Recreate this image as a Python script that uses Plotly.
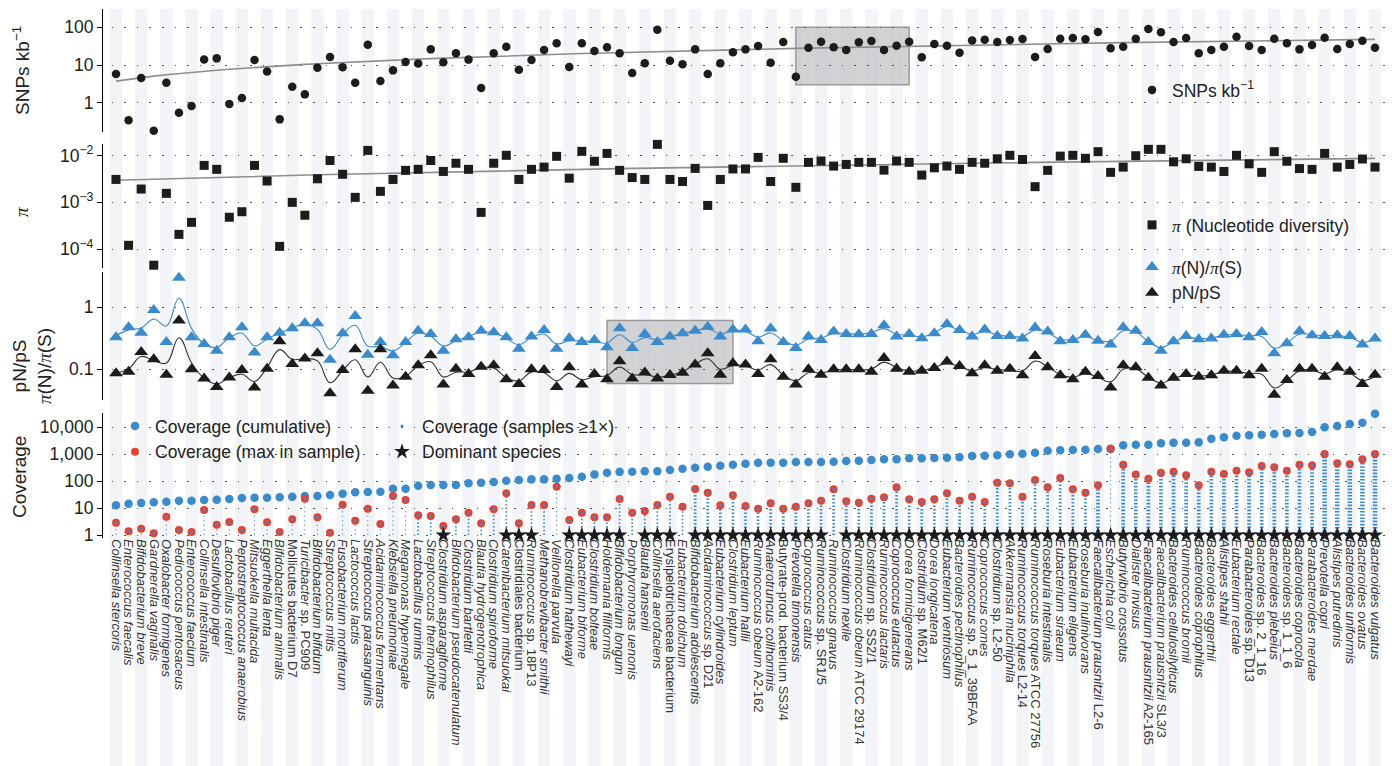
import numpy as np
import plotly.graph_objects as go

# ---------------------------------------------------------------- data
species = [
    "<i>Collinsella stercoris</i>", "<i>Enterococcus faecalis</i>", "<i>Bifidobacterium breve</i>",
    "<i>Gardnerella vaginalis</i>", "<i>Oxalobacter formigenes</i>", "<i>Pediococcus pentosaceus</i>",
    "<i>Enterococcus faecium</i>", "<i>Collinsella intestinalis</i>", "<i>Desulfovibrio piger</i>",
    "<i>Lactobacillus reuteri</i>", "<i>Peptostreptococcus anaerobius</i>", "<i>Mitsuokella multacida</i>",
    "<i>Eggerthella lenta</i>", "<i>Bifidobacterium animalis</i>", "Mollicutes bacterium D7",
    "<i>Turicibacter</i> sp. PC909", "<i>Bifidobacterium bifidum</i>", "<i>Streptococcus mitis</i>",
    "<i>Fusobacterium mortiferum</i>", "<i>Lactococcus lactis</i>", "<i>Streptococcus parasanguinis</i>",
    "<i>Acidaminococcus fermentans</i>", "<i>Klebsiella pneumoniae</i>", "<i>Megamonas hypermegale</i>",
    "<i>Lactobacillus ruminis</i>", "<i>Streptococcus thermophilus</i>", "<i>Clostridium asparagiforme</i>",
    "<i>Bifidobacterium pseudocatenulatum</i>", "<i>Clostridium bartlettii</i>", "<i>Blautia hydrogenotrophica</i>",
    "<i>Clostridium spiroforme</i>", "<i>Catenibacterium mitsuokai</i>", "Clostridiales bacterium",
    "<i>Ruminococcus</i> sp. 18P13", "<i>Methanobrevibacter smithii</i>", "<i>Veillonella parvula</i>",
    "<i>Clostridium hathewayi</i>", "<i>Eubacterium biforme</i>", "<i>Clostridium bolteae</i>",
    "<i>Holdemania filiformis</i>", "<i>Bifidobacterium longum</i>", "<i>Porphyromonas uenonis</i>",
    "<i>Blautia hansenii</i>", "<i>Collinsella aerofaciens</i>", "Erysipelotrichaceae bacterium",
    "<i>Eubacterium dolichum</i>", "<i>Bifidobacterium adolescentis</i>", "<i>Acidaminococcus</i> sp. D21",
    "<i>Eubacterium cylindroides</i>", "<i>Clostridium leptum</i>", "<i>Eubacterium hallii</i>",
    "<i>Ruminococcus obeum</i> A2-162", "<i>Anaerotruncus colihominis</i>", "Butyrate-prod. bacterium SS3/4",
    "<i>Prevotella timonensis</i>", "<i>Coprococcus catus</i>", "<i>Ruminococcus</i> sp. SR1/5",
    "<i>Ruminococcus gnavus</i>", "<i>Clostridium nexile</i>", "<i>Ruminococcus obeum</i> ATCC 29174",
    "<i>Clostridium</i> sp. SS2/1", "<i>Ruminococcus lactaris</i>", "<i>Coprococcus eutactus</i>",
    "<i>Dorea formicigenerans</i>", "<i>Clostridium</i> sp. M62/1", "<i>Dorea longicatena</i>",
    "<i>Eubacterium ventriosum</i>", "<i>Bacteroides pectinophilus</i>", "<i>Ruminococcus</i> sp. 5_1_39BFAA",
    "<i>Coprococcus comes</i>", "<i>Clostridium</i> sp. L2-50", "<i>Akkermansia muciniphila</i>",
    "<i>Ruminococcus torques</i> L2-14", "<i>Ruminococcus torques</i> ATCC 27756", "<i>Roseburia intestinalis</i>",
    "<i>Eubacterium siraeum</i>", "<i>Eubacterium eligens</i>", "<i>Roseburia inulinivorans</i>",
    "<i>Faecalibacterium prausnitzii</i> L2-6", "<i>Escherichia coli</i>", "<i>Butyrivibrio crossotus</i>",
    "<i>Dialister invisus</i>", "<i>Faecalibacterium prausnitzii</i> A2-165", "<i>Faecalibacterium prausnitzii</i> SL3/3",
    "<i>Bacteroides cellulosilyticus</i>", "<i>Ruminococcus bromii</i>", "<i>Bacteroides coprophilus</i>",
    "<i>Bacteroides eggerthii</i>", "<i>Alistipes shahii</i>", "<i>Eubacterium rectale</i>",
    "<i>Parabacteroides</i> sp. D13", "<i>Bacteroides</i> sp. 2_1_16", "<i>Bacteroides plebeius</i>",
    "<i>Bacteroides</i> sp. 1_1_6", "<i>Bacteroides coprocola</i>", "<i>Parabacteroides merdae</i>",
    "<i>Prevotella copri</i>", "<i>Alistipes putredinis</i>", "<i>Bacteroides uniformis</i>",
    "<i>Bacteroides ovatus</i>", "<i>Bacteroides vulgatus</i>",
]

snp_per_kb = [
    5.8, 0.34, 4.5, 0.18, 3.4, 0.54, 0.82, 14, 15, 0.92,
    1.33, 13.6, 6.7, 0.36, 2.66, 1.66, 8.5, 16.3, 8.7, 3.4,
    34.7, 3.76, 7.2, 12, 11, 26, 11.8, 20.4, 13.9, 2.45,
    20.4, 30.7, 7.5, 13.6, 25, 37.6, 8.9, 37.6, 23.5, 29.4,
    20.4, 6.1, 11.1, 86.7, 13, 10.4, 26, 5.8, 11.1, 21.7,
    26, 31.9, 11.5, 40.8, 4.9, 28.8, 41.7, 29.4, 25, 40,
    43.4, 25, 32.6, 41.7, 16, 36, 32.6, 21.2, 45, 47,
    40.8, 46, 49, 16.3, 26.6, 50, 52, 48, 75, 28,
    30.7, 50, 90, 74, 40.8, 52, 20.4, 25, 30.7, 56.5,
    32, 25, 50, 38, 26, 34, 53, 26.6, 36, 44, 28.8,
]

nucleotide_diversity = [
    3.1e-3, 1.2e-4, 1.93e-3, 4.5e-5, 1.56e-3, 2.06e-4, 3.73e-4, 6.2e-3, 5.1e-3, 4.8e-4,
    6.3e-4, 6.2e-3, 2.87e-3, 1.14e-4, 1.0e-3, 5.3e-4, 3.2e-3, 7.9e-3, 4.0e-3, 1.28e-3,
    1.3e-2, 1.72e-3, 3.1e-3, 4.85e-3, 5.1e-3, 7.9e-3, 4.6e-3, 6.9e-3, 5.1e-3, 6.1e-4,
    6.9e-3, 1.02e-2, 3.1e-3, 5.1e-3, 5.7e-3, 9.7e-3, 3.3e-3, 1.24e-2, 7.6e-3, 1.12e-2,
    4.85e-3, 3.4e-3, 3.1e-3, 1.75e-2, 3.1e-3, 2.8e-3, 5.35e-3, 8.6e-4, 3.1e-3, 5.2e-3,
    5.2e-3, 9.2e-3, 2.8e-3, 8.8e-3, 2.1e-3, 7.2e-3, 7.7e-3, 6.0e-3, 6.5e-3, 7.2e-3,
    7.2e-3, 4.9e-3, 7.7e-3, 7.2e-3, 3.85e-3, 5.5e-3, 6.0e-3, 5.1e-3, 7.2e-3, 6.9e-3,
    8.6e-3, 1.02e-2, 8.3e-3, 2.17e-3, 4.85e-3, 9.8e-3, 1.02e-2, 8.8e-3, 1.22e-2, 4.4e-3,
    5.7e-3, 1.0e-2, 1.37e-2, 1.37e-2, 7.4e-3, 8.6e-3, 5.9e-3, 5.7e-3, 4.6e-3, 1.02e-2,
    6.7e-3, 4.4e-3, 1.22e-2, 7.6e-3, 5.3e-3, 5.1e-3, 1.12e-2, 5.7e-3, 6.5e-3, 8.5e-3, 5.7e-3,
]

piN_piS = [
    0.33, 0.475, 0.39, 0.905, 0.276, 3.0, 0.33, 0.256, 0.2, 0.33,
    0.475, 0.186, 0.33, 0.39, 0.458, 0.552, 0.552, 0.142, 0.381, 0.725,
    0.172, 0.276, 0.168, 0.276, 0.42, 0.372, 0.2, 0.305, 0.33, 0.42,
    0.396, 0.33, 0.215, 0.337, 0.43, 0.215, 0.316, 0.276, 0.297, 0.226,
    0.458, 0.22, 0.372, 0.276, 0.337, 0.381, 0.42, 0.487, 0.337, 0.44,
    0.44, 0.283, 0.453, 0.276, 0.22, 0.337, 0.297, 0.406, 0.372, 0.367,
    0.372, 0.513, 0.337, 0.372, 0.316, 0.381, 0.538, 0.43, 0.337, 0.44,
    0.345, 0.345, 0.313, 0.47, 0.406, 0.283, 0.297, 0.362, 0.289, 0.25,
    0.475, 0.42, 0.276, 0.2, 0.283, 0.345, 0.305, 0.313, 0.362, 0.372,
    0.33, 0.4, 0.181, 0.262, 0.41, 0.354, 0.345, 0.354, 0.345, 0.25, 0.313,
]

pN_pS = [
    0.086, 0.091, 0.19, 0.145, 0.082, 0.61, 0.1, 0.071, 0.052, 0.074,
    0.097, 0.051, 0.102, 0.283, 0.122, 0.149, 0.181, 0.041, 0.097, 0.21,
    0.045, 0.21, 0.055, 0.076, 0.116, 0.168, 0.057, 0.102, 0.084, 0.11,
    0.116, 0.069, 0.058, 0.1, 0.097, 0.052, 0.108, 0.057, 0.084, 0.069,
    0.135, 0.071, 0.089, 0.071, 0.081, 0.088, 0.119, 0.181, 0.082, 0.125,
    0.119, 0.084, 0.145, 0.076, 0.057, 0.1, 0.082, 0.1, 0.1, 0.1,
    0.091, 0.152, 0.102, 0.091, 0.095, 0.105, 0.133, 0.113, 0.086, 0.116,
    0.095, 0.102, 0.08, 0.164, 0.108, 0.08, 0.069, 0.091, 0.078, 0.051,
    0.116, 0.108, 0.073, 0.055, 0.073, 0.084, 0.076, 0.08, 0.095, 0.095,
    0.08, 0.102, 0.039, 0.067, 0.102, 0.102, 0.076, 0.108, 0.091, 0.058, 0.082,
]

coverage_cumulative = [
    12.6, 14.5, 15.3, 16.2, 17.2, 18.7, 18.7, 19.8, 20.4, 21.5,
    23.5, 24.1, 24.1, 24.8, 26.3, 27.8, 27.8, 30.3, 34, 38,
    39.2, 40.3, 52, 52, 67, 71, 71, 71, 82, 87,
    92, 103, 109, 115, 115, 122, 129, 145, 176, 204,
    218, 220, 228, 228, 255, 286, 312, 340, 370, 403,
    439, 478, 478, 478, 506, 506, 506, 520, 551, 567,
    600, 635, 635, 691, 691, 711, 732, 753, 843, 868,
    893, 972, 1029, 1120, 1328, 1367, 1406, 1447, 1540, 1550,
    2094, 2218, 2218, 2483, 2630, 2630, 2706, 3700, 4140, 4775,
    4910, 5200, 5510, 5825, 6000, 6530, 9720, 10900, 12900, 14460, 31200,
]

coverage_max_sample = [
    2.86, 1.37, 1.72, 1.15, 4.77, 1.53, 1.29, 8.4, 2.41, 3.03,
    1.53, 8.9, 2.94, 1.29, 3.8, 22.2, 4.5, 1.22, 13.3, 3.4,
    9.4, 2.56, 27.8, 19.8, 5.35, 5.05, 2.15, 3.8, 6.7, 2.7,
    8.9, 34.9, 2.7, 12.9, 12.9, 61.7, 3.6, 6.7, 4.5, 4.5,
    21.5, 6.7, 7.7, 12.9, 26.3, 11.2, 50.6, 37, 12.6, 29.4,
    11.9, 9.4, 14.9, 9.4, 11.2, 14.9, 18.7, 49, 17.7, 15.8,
    22.2, 24.8, 58.3, 20.9, 16.7, 20.9, 34.9, 18.7, 26.3, 16.7,
    86.7, 82, 26.3, 109, 58.3, 129, 49, 37, 69, 1550,
    403, 176, 122, 204, 222, 162, 69, 222, 182, 241,
    209, 359, 321, 241, 403, 380, 1000, 451, 414, 635, 1000,
]

dominant_species = [
    0, 0, 0, 0, 0, 0, 0, 0, 0, 0,
    0, 0, 0, 0, 0, 0, 0, 0, 0, 0,
    0, 0, 0, 0, 0, 0, 1, 0, 0, 0,
    0, 1, 1, 1, 0, 0, 1, 1, 1, 1,
    1, 0, 1, 1, 1, 0, 1, 1, 1, 1,
    1, 1, 1, 1, 1, 1, 1, 0, 1, 1,
    1, 1, 1, 1, 1, 1, 1, 1, 1, 1,
    1, 1, 1, 1, 1, 1, 1, 1, 1, 1,
    1, 1, 1, 1, 1, 1, 1, 1, 1, 1,
    1, 1, 1, 1, 1, 1, 1, 1, 1, 1, 1,
]

# highlighted species blocks: (first index, last index, y low, y high)
snp_highlight = (54, 63, 3.0, 100.0)
pnps_highlight = (39, 49, 0.059, 0.61)

# ---------------------------------------------------------------- geometry
W, H = 1392, 766
PLOT_L, PLOT_R, PLOT_T, PLOT_B = 103, 1385, 0, 538
COL0, COL_STEP = 116, 12.59

BLUE = "#3b8bcb"
RED = "#e8412f"
INK = "#1c1c1c"
TREND = "#8e8e8e"
STRIPE = "#f2f4f8"
SERIF = "Liberation Serif"
SANS = "Liberation Sans"


def fy(p):
    return (PLOT_B - p) / (PLOT_B - PLOT_T)


def fx(p):
    return (p - PLOT_L) / (PLOT_R - PLOT_L)


def pi_sym(s="π"):
    return f'<span style="font-family:{SERIF}"><i>{s}</i></span>'


n = len(species)
idx = np.arange(n)
snp = np.array(snp_per_kb)
pi = np.array(nucleotide_diversity)
cum = np.array(coverage_cumulative)
cmax = np.array(coverage_max_sample)
dom = np.array(dominant_species, dtype=bool)

x_range = [(PLOT_L - COL0) / COL_STEP, (PLOT_R - COL0) / COL_STEP]


def smooth_log(vals):
    lv = np.log10(np.asarray(vals, dtype=float))
    pad = np.concatenate([[lv[0]], lv, [lv[-1]]])
    return 10 ** ((pad[:-2] + 4 * pad[1:-1] + pad[2:]) / 6)


fig = go.Figure()

# --- SNPs per kb with linear trend
snp_fit = np.polyval(np.polyfit(idx, snp, 1), idx)
fig.add_trace(go.Scatter(x=idx, y=snp_fit, mode="lines", line=dict(color=TREND, width=1.6),
                         yaxis="y", showlegend=False, hoverinfo="skip"))
fig.add_trace(go.Scatter(x=idx, y=snp, mode="markers", name="SNPs kb<sup>−1</sup>",
                         marker=dict(symbol="circle", size=8.5, color=INK), yaxis="y",
                         legend="legend", cliponaxis=False))

# --- nucleotide diversity with linear trend
pi_fit = np.polyval(np.polyfit(idx, pi, 1), idx)
fig.add_trace(go.Scatter(x=idx, y=pi_fit, mode="lines", line=dict(color=TREND, width=1.6),
                         yaxis="y2", showlegend=False, hoverinfo="skip"))
fig.add_trace(go.Scatter(x=idx, y=pi, mode="markers",
                         name=f"{pi_sym()} (Nucleotide diversity)",
                         marker=dict(symbol="square", size=9, color=INK), yaxis="y2",
                         legend="legend2", cliponaxis=False))

# --- selection ratios with smoothed curves
fig.add_trace(go.Scatter(x=idx, y=smooth_log(piN_piS), mode="lines",
                         line=dict(color=BLUE, width=1.1, shape="spline", smoothing=1.2),
                         yaxis="y3", showlegend=False, hoverinfo="skip"))
fig.add_trace(go.Scatter(x=idx, y=smooth_log(pN_pS), mode="lines",
                         line=dict(color="#333333", width=1.1, shape="spline", smoothing=1.2),
                         yaxis="y3", showlegend=False, hoverinfo="skip"))
fig.add_trace(go.Scatter(x=idx, y=piN_piS, mode="markers",
                         name=f"{pi_sym()}(N)/{pi_sym()}(S)",
                         marker=dict(symbol="triangle-up", size=12, color=BLUE), yaxis="y3",
                         legend="legend3", cliponaxis=False))
fig.add_trace(go.Scatter(x=idx, y=pN_pS, mode="markers", name="pN/pS",
                         marker=dict(symbol="triangle-up", size=12, color=INK), yaxis="y3",
                         legend="legend3", cliponaxis=False))

# --- coverage: per-sample strips (dotted columns from 1x up to the sample maximum)
ratio = cum / cmax
strip_w = np.clip(1.4 * (np.log10(cum) - 0.9) * np.minimum(1.0, ratio / 3.0), 0.8, 6.0)
bins = [(0.0, 1.2, "1.5px,3px"), (1.2, 2.2, "1.5px,2.2px"), (2.2, 3.2, "1.5px,2px"),
        (3.2, 4.2, "1.6px,1.8px"), (4.2, 9.0, "1.6px,1.6px")]
for lo, hi, dash in bins:
    sel = idx[(strip_w >= lo) & (strip_w < hi)]
    if len(sel) == 0:
        continue
    xs, ys = [], []
    for i in sel:
        xs += [i, i, None]
        ys += [1.0, cmax[i], None]
    fig.add_trace(go.Scatter(x=xs, y=ys, mode="lines",
                             line=dict(color=BLUE, width=float(np.mean(strip_w[sel])), dash=dash),
                             yaxis="y4", showlegend=False, hoverinfo="skip"))

fig.add_trace(go.Scatter(x=idx, y=cum, mode="markers", name="Coverage (cumulative)",
                         marker=dict(symbol="circle", size=8.5, color=BLUE), yaxis="y4",
                         legend="legend4", cliponaxis=False))
fig.add_trace(go.Scatter(x=idx, y=cmax, mode="markers", name="Coverage (max in sample)",
                         marker=dict(symbol="circle", size=8, color=RED), yaxis="y4",
                         legend="legend4", cliponaxis=False))
fig.add_trace(go.Scatter(x=idx, y=cmax, mode="markers", name="Coverage (samples ≥1×)",
                         marker=dict(symbol="circle", size=3, color=BLUE), yaxis="y4",
                         legend="legend5", cliponaxis=False))
fig.add_trace(go.Scatter(x=idx[dom], y=np.ones(dom.sum()), mode="markers", name="Dominant species",
                         marker=dict(symbol="star", size=12, color=INK, line=dict(width=0)),
                         yaxis="y4", legend="legend5", cliponaxis=False))

# ---------------------------------------------------------------- shapes
shapes = []
for i in idx[::2]:
    shapes.append(dict(type="rect", xref="x", yref="paper", x0=i - 0.5, x1=i + 0.5,
                       y0=fy(H), y1=fy(9), fillcolor=STRIPE, line=dict(width=0), layer="below"))
for (a, b, lo, hi), yref in ((snp_highlight, "y"), (pnps_highlight, "y3")):
    shapes.append(dict(type="rect", xref="x", yref=yref, x0=a, x1=b, y0=lo, y1=hi,
                       fillcolor="rgba(196,197,200,0.78)",
                       line=dict(color="#9a9a9a", width=1.5), layer="below"))

# ---------------------------------------------------------------- axes
GRID_DASH = "0px,8.6px,1.6px,2.39px"
tick_font = dict(size=17.5, color="#222222", family=SANS)


def log_axis(domain, rng, vals, text):
    return dict(type="log", domain=domain, range=rng, tickvals=vals, ticktext=text,
                anchor="x", showline=True, linecolor="black", linewidth=1.2,
                ticks="outside", ticklen=5, tickwidth=1.2, tickcolor="black",
                showgrid=True, gridcolor="#555555", gridwidth=1.4, griddash=GRID_DASH,
                zeroline=False, tickfont=tick_font, automargin=False, fixedrange=True)


legend_base = dict(xanchor="left", yanchor="middle", bgcolor="rgba(0,0,0,0)",
                   font=dict(size=17.5, color="#222222", family=SANS), itemclick=False)

annotations = [
    dict(text="SNPs kb<sup>−1</sup>", x=fx(21), y=fy(71)),
    dict(text=pi_sym(), x=fx(21), y=fy(212)),
    dict(text=f"pN/pS<br>{pi_sym()}(N)/{pi_sym()}(S)", x=fx(32), y=fy(366)),
    dict(text="Coverage", x=fx(19), y=fy(477)),
]
annotations = [dict(a, xref="paper", yref="paper", xanchor="center", yanchor="middle",
                    textangle=-90, showarrow=False,
                    font=dict(size=19, color="#222222", family=SANS)) for a in annotations]

fig.update_layout(
    width=W, height=H,
    margin=dict(l=PLOT_L, r=W - PLOT_R, t=PLOT_T, b=H - PLOT_B, autoexpand=False),
    paper_bgcolor="white", plot_bgcolor="white",
    font=dict(family=SANS, color="#222222"),
    xaxis=dict(range=x_range, domain=[0, 1], anchor="y4", tickvals=idx, ticktext=species,
               tickangle=90, showline=False, showgrid=False, zeroline=False, ticks="",
               tickfont=dict(size=13, color="#333333", family=SANS), automargin=False,
               fixedrange=True),
    yaxis=log_axis([fy(132), fy(9)], [-0.779, 2.487], [1, 10, 100], ["1", "10", "100"]),
    yaxis2=log_axis([fy(268), fy(144)], [-4.407, -1.749], [1e-4, 1e-3, 1e-2],
                    ["10<sup>−4</sup>", "10<sup>−3</sup>", "10<sup>−2</sup>"]),
    yaxis3=log_axis([fy(400), fy(272)], [-1.495, 0.569], [0.1, 1], ["0.1", "1"]),
    yaxis4=log_axis([0, fy(413)], [-0.111, 4.519], [1, 10, 100, 1000, 10000],
                    ["1", "10", "100", "1,000", "10,000"]),
    legend=dict(legend_base, x=fx(1132), y=fy(90)),
    legend2=dict(legend_base, x=fx(1132), y=fy(225)),
    legend3=dict(legend_base, x=fx(1132), y=fy(280)),
    legend4=dict(legend_base, x=fx(115), y=fy(439)),
    legend5=dict(legend_base, x=fx(382), y=fy(439)),
    shapes=shapes,
    annotations=annotations,
    showlegend=True,
)

fig.write_html("out.html")
